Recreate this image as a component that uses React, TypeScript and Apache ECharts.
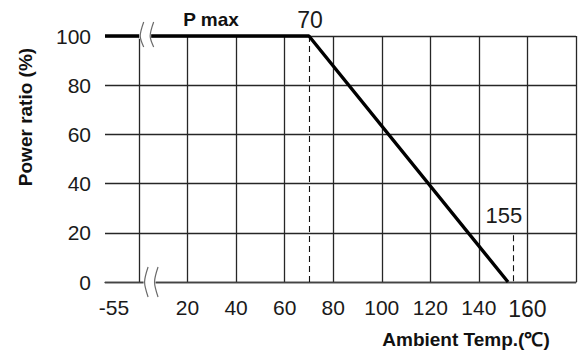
import React, { useEffect, useRef } from "react";
import * as echarts from "echarts";

// ---- data ----
const X_MIN = -14;
const X_MAX = 180;
const xTickValues = [20, 40, 60, 80, 100, 120, 140, 160];
const xBreakLabel = "-55";
const yTickValues = [0, 20, 40, 60, 80, 100];
const curveTemps = [-55, 70, 152];
const curveRatios = [100, 100, 0];
const dashTemps = [70, 154];
const dashTops = [100, 19];
const annotationTexts = ["70", "155"];
const pmaxText = "P max";
const yName = "Power ratio (%)";
const xName = "Ambient Temp.(℃)";
// break-mark positions (axis values) on top line and bottom axis
const breakTop = [0.5, 4.6];
const breakBottom = [2.3, 6.4];

const FONT = "'Liberation Sans', Arial, Helvetica, sans-serif";
const GRID_COLOR = "#262626";

export default function App() {
  const ref = useRef<HTMLDivElement>(null);

  useEffect(() => {
    document.body.style.margin = "0";
    if (!ref.current) return;
    const chart = echarts.init(ref.current, null, { renderer: "svg" });

    const curveData = curveTemps.map((t, i) => [Math.max(t, X_MIN), curveRatios[i]]);

    const option: any = {
      animation: false,
      backgroundColor: "#ffffff",
      grid: { left: 105, right: 4, top: 36, bottom: 72, containLabel: false, outerBoundsMode: "none" },
      xAxis: {
        type: "value",
        min: X_MIN,
        max: X_MAX,
        axisLine: { show: true, lineStyle: { color: "#444", width: 1.3 } },
        axisTick: { show: false, customValues: [...xTickValues, X_MAX] },
        splitLine: { show: true, lineStyle: { color: GRID_COLOR, width: 1.3 } },
        axisLabel: {
          customValues: [X_MIN, ...xTickValues],
          margin: 15,
          color: "#1a1a1a",
          fontFamily: FONT,
          fontSize: 21,
          formatter: (v: number) => {
            if (v === X_MIN) return "{s|" + xBreakLabel + "}";
            if (v === xTickValues[xTickValues.length - 1]) return "{b|" + v + "}";
            return String(v);
          },
          rich: {
            s: { fontSize: 21, fontFamily: FONT, color: "#1a1a1a", padding: [0, 0, 0, 18] },
            b: { fontSize: 23, fontFamily: FONT, color: "#1a1a1a" },
          },
        },
      },
      yAxis: {
        type: "value",
        min: yTickValues[0],
        max: yTickValues[yTickValues.length - 1],
        interval: 20,
        axisLine: { show: true, lineStyle: { color: GRID_COLOR, width: 1.3 } },
        axisTick: { show: false },
        splitLine: { show: true, lineStyle: { color: GRID_COLOR, width: 1.3 } },
        axisLabel: { margin: 14, color: "#1a1a1a", fontFamily: FONT, fontSize: 21 },
      },
      series: [
        {
          type: "line",
          data: curveData,
          symbol: "none",
          clip: false,
          z: 5,
          lineStyle: { color: "#000", width: 3.4 },
          markLine: {
            silent: true,
            symbol: ["none", "none"],
            label: { show: false },
            lineStyle: { color: "#111", width: 1.1, type: [6, 4] },
            data: dashTemps.map((t, i) => [{ coord: [t, dashTops[i]] }, { coord: [t, 0] }]),
          },
        },
      ],
    };
    chart.setOption(option);

    const px = (v: number, y: number) => chart.convertToPixel({ gridIndex: 0 }, [v, y]) as number[];

    const chevron = (v: number, yVal: number, up: number, down: number) => {
      const [x, y] = px(v, yVal);
      return {
        type: "polyline",
        z: 100,
        shape: { points: [[x + 3.5, y - up], [x, y], [x + 3.5, y + down]], smooth: 0.3 },
        style: { stroke: "#6a6a6a", lineWidth: 1.2, fill: null },
      };
    };
    const gap = (v0: number, v1: number, yVal: number, h: number) => {
      const [x0, y] = px(v0, yVal);
      const [x1] = px(v1, yVal);
      return {
        type: "rect",
        z: 99,
        shape: { x: x0 - 1, y: y - h / 2, width: x1 - x0 + 2, height: h },
        style: { fill: "#fff" },
      };
    };

    const a70 = px(dashTemps[0], dashTops[0]);
    const a155 = px(dashTemps[1], 20);

    chart.setOption({
      graphic: [
        gap(breakTop[0], breakTop[1], 100, 6),
        chevron(breakTop[0], 100, 14, 11),
        chevron(breakTop[1], 100, 14, 11),
        gap(breakBottom[0], breakBottom[1], 0, 6),
        chevron(breakBottom[0], 0, 15, 15),
        chevron(breakBottom[1], 0, 15, 15),
        {
          type: "text",
          z: 100,
          x: 211,
          y: 19,
          style: { text: pmaxText, font: `bold 19px ${FONT}`, fill: "#111", align: "center", verticalAlign: "middle" },
        },
        {
          type: "text",
          z: 100,
          x: a70[0] + 1,
          y: a70[1] - 16,
          style: { text: annotationTexts[0], font: `23px ${FONT}`, fill: "#1a1a1a", align: "center", verticalAlign: "middle" },
        },
        {
          type: "text",
          z: 100,
          x: a155[0] - 9,
          y: a155[1] - 17,
          style: { text: annotationTexts[1], font: `22px ${FONT}`, fill: "#1a1a1a", align: "center", verticalAlign: "middle" },
        },
        {
          type: "text",
          z: 100,
          x: 25,
          y: 117,
          rotation: Math.PI / 2,
          style: { text: yName, font: `bold 19px ${FONT}`, fill: "#111", align: "center", verticalAlign: "middle" },
        },
        {
          type: "text",
          z: 100,
          x: 466,
          y: 339,
          style: { text: xName, font: `bold 19px ${FONT}`, fill: "#111", align: "center", verticalAlign: "middle" },
        },
      ],
    });

    return () => chart.dispose();
  }, []);

  return <div ref={ref} style={{ width: 580, height: 354 }} />;
}
